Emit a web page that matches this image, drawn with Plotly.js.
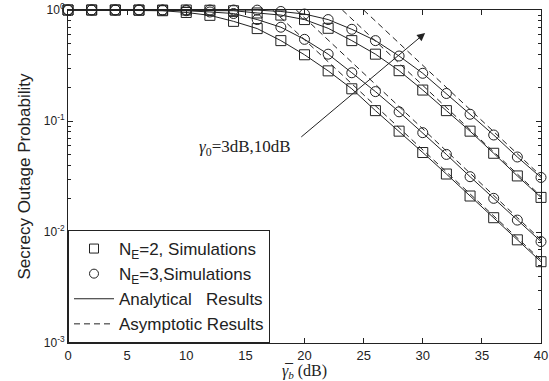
<!DOCTYPE html>
<html><head><meta charset="utf-8">
<script src="https://cdn.plot.ly/plotly-3.0.1.min.js"></script>
<style>html,body{margin:0;padding:0;background:#fff}</style>
</head><body><div id="chart" style="width:549px;height:381px"></div>
<script>
// ---- data ----
const snrDb = [0,2,4,6,8,10,12,14,16,18,20,22,24,26,28,30,32,34,36,38,40];
// gamma0 = 3 dB
const pout_g3_NE2 = [1,1,1,0.995,0.985,0.95,0.895,0.79,0.68,0.53,0.395,0.283,0.195,0.124,0.081,0.052,0.0333,0.0211,0.01345,0.0085,0.0054];
const pout_g3_NE3 = [1,1,1,1,0.997,0.985,0.96,0.93,0.82,0.70,0.544,0.40,0.272,0.184,0.121,0.0785,0.050,0.0315,0.0201,0.0128,0.0082];
// gamma0 = 10 dB
const pout_g10_NE2 = [1,1,1,1,1,1,0.995,0.985,0.94,0.90,0.82,0.684,0.53,0.40,0.284,0.19,0.124,0.081,0.0512,0.032,0.0205];
const pout_g10_NE3 = [1,1,1,1,1,1,1,1,0.997,0.97,0.92,0.82,0.67,0.53,0.385,0.269,0.177,0.115,0.0748,0.0474,0.031];
// asymptotes (straight on this scale): [x where it leaves the top, x = 40]
const asym_g3_NE2_x = [17.3, 40],  asym_g3_NE2_y = [1, 0.0056];
const asym_g3_NE3_x = [19.3, 40],  asym_g3_NE3_y = [1, 0.0085];
const asym_g10_NE2_x = [23.2, 40], asym_g10_NE2_y = [1, 0.021];
const asym_g10_NE3_x = [25.0, 40], asym_g10_NE3_y = [1, 0.032];
const yTickVals = [0.001, 0.01, 0.1, 1];
const yTickText = ['10<sup>-3</sup>','10<sup>-2</sup>','10<sup>-1</sup>','10<sup>0</sup>'];
const xTickVals = [0,5,10,15,20,25,30,35,40];
const legendNames = ['N<sub>E</sub>=2, Simulations','N<sub>E</sub>=3,Simulations','Analytical\u00a0\u00a0\u00a0Results','Asymptotic Results'];
const arrowTail = {x: 19.6, y: 0.07};
const arrowTip = {x: 30.2, y: 0.62};
const labelPos = {x: 15.0, y: 0.057};

// ---- styling ----
const ink = '#222';
const traces = [];
function curve(y, sym) {
  traces.push({x: snrDb, y: y, mode: 'lines', line: {color: ink, width: 1}, showlegend: false, hoverinfo: 'skip'});
  traces.push({x: snrDb, y: y, mode: 'markers', cliponaxis: false,
    marker: {symbol: sym, size: 10, color: ink, line: {color: ink, width: 1}}, showlegend: false});
}
function asym(x, y) {
  traces.push({x: x, y: y, mode: 'lines', line: {color: ink, width: 1, dash: '6px,4px'}, showlegend: false});
}
curve(pout_g3_NE2, 'square-open');
curve(pout_g3_NE3, 'circle-open');
curve(pout_g10_NE2, 'square-open');
curve(pout_g10_NE3, 'circle-open');
asym(asym_g3_NE2_x, asym_g3_NE2_y);
asym(asym_g3_NE3_x, asym_g3_NE3_y);
asym(asym_g10_NE2_x, asym_g10_NE2_y);
asym(asym_g10_NE3_x, asym_g10_NE3_y);
// legend entries
traces.push({x:[null], y:[null], mode:'markers', name: legendNames[0], marker:{symbol:'square-open', size:9, color: ink, line:{color: ink, width:1}}});
traces.push({x:[null], y:[null], mode:'markers', name: legendNames[1], marker:{symbol:'circle-open', size:9, color: ink, line:{color: ink, width:1}}});
traces.push({x:[null], y:[null], mode:'lines', name: legendNames[2], line:{color: ink, width:1}});
traces.push({x:[null], y:[null], mode:'lines', name: legendNames[3], line:{color: ink, width:1, dash:'6px,4px'}});

const minorVals = [];
for (let d = -3; d < 0; d++) for (let k = 2; k <= 9; k++) minorVals.push(k * Math.pow(10, d));

const layout = {
  width: 549, height: 381,
  margin: {l: 68, r: 8, t: 10, b: 38},
  paper_bgcolor: '#fff', plot_bgcolor: '#fff',
  font: {family: 'Liberation Sans, Arial, sans-serif', color: ink, size: 13},
  showlegend: true,
  legend: {x: 0, y: 0, xanchor: 'left', yanchor: 'bottom', bgcolor: '#fff', bordercolor: ink, borderwidth: 1,
    font: {size: 17, family: 'Liberation Sans, Arial, sans-serif', color: ink}, tracegroupgap: 0, itemwidth: 40},
  xaxis: {range: [0, 40], tickvals: xTickVals, ticks: 'inside', ticklen: 5, tickcolor: ink, showline: true, linecolor: ink, linewidth: 1,
    mirror: 'ticks', showgrid: false, zeroline: false, tickfont: {size: 13},
    title: {text: '<i>γ\u0305</i><sub><i>b</i></sub> (dB)', font: {family: 'Liberation Serif, serif', size: 16}, standoff: 0}},
  yaxis: {type: 'log', range: [-3, 0], tickvals: yTickVals, ticktext: yTickText, ticks: 'inside', ticklen: 5, tickcolor: ink,
    showline: true, linecolor: ink, linewidth: 1, mirror: 'ticks', showgrid: false, zeroline: false, tickfont: {size: 12},
    minor: {tickvals: minorVals, ticks: 'inside', ticklen: 3, tickcolor: ink, showgrid: false},
    title: {text: 'Secrecy Outage Probability', font: {size: 17}, standoff: 8}},
  annotations: [
    {x: arrowTip.x, y: Math.log10(arrowTip.y), ax: arrowTail.x, ay: Math.log10(arrowTail.y), xref: 'x', yref: 'y', axref: 'x', ayref: 'y',
     showarrow: true, arrowhead: 2, arrowsize: 1.6, arrowwidth: 1, arrowcolor: ink, text: ''},
    {x: labelPos.x, y: Math.log10(labelPos.y), xref: 'x', yref: 'y', showarrow: false,
     text: '<i>γ</i><sub>0</sub>=3dB,10dB', font: {family: 'Liberation Serif, serif', size: 17, color: ink}}
  ]
};
Plotly.newPlot('chart', traces, layout, {staticPlot: true, displayModeBar: false});
</script>
</body></html>
